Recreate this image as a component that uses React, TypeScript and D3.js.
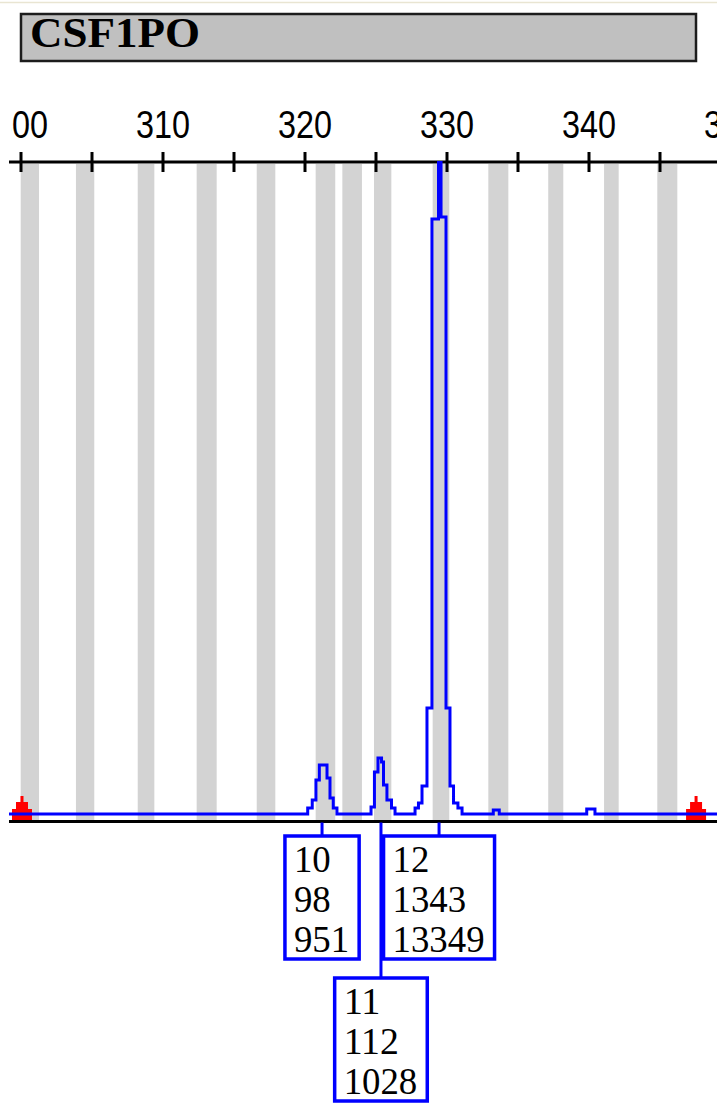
import React from "react";
import * as d3 from "d3";

// ---- data ----
const markerName = "CSF1PO";
const tickValues = [300, 305, 310, 315, 320, 325, 330, 335, 340, 345, 350];
const tickLabels = [300, 310, 320, 330, 340, 350];
const binStarts = [299.98, 303.87, 308.22, 312.37, 316.6, 320.75, 322.63, 324.86, 328.99, 332.91, 337.13, 341.06, 344.81];
const binEnds = [301.27, 305.16, 309.39, 313.78, 317.91, 322.13, 324.01, 326.08, 330.16, 334.32, 338.19, 342.09, 346.22];
const traceSize = [
  299, 320.19, 320.51, 320.77, 321.01, 321.55, 321.76, 321.99, 322.25,
  324.65, 324.89, 325.14, 325.39, 325.53, 325.77, 326.09, 326.34,
  327.75, 327.99, 328.24, 328.59, 328.94, 329.4, 329.58, 329.93, 330.21, 330.46, 330.77, 331.06,
  333.26, 333.68, 339.84, 340.42, 351,
];
const traceRfu = [
  0, 12, 28, 68, 98, 72, 32, 12, 0,
  14, 84, 112, 104, 58, 28, 12, 0,
  12, 22, 56, 212, 1190, 1343, 1194, 212, 56, 22, 12, 0,
  8, 0, 10, 0, 0,
];
const alleleNames = ["10", "11", "12"];
const alleleSizes = [321.2, 325.35, 329.44];
const alleleHeights = [98, 112, 1343];
const alleleAreas = [951, 1028, 13349];
const rangeMarkers = [300.07, 347.54];

// ---- layout ----
const W = 717;
const H = 1103;
const LEFT = 9;
const AXIS_Y = 162;
const BASE_Y = 814;
const BOTTOM_Y = 821.5;

export default function App() {
  const x = d3.scaleLinear().domain([300, 350]).range([21, 731]);
  const y = d3.scaleLinear().domain([0, 1304]).range([BASE_Y, AXIS_Y]);

  const trace = traceSize.map((s, i) => [s, traceRfu[i]] as [number, number]);
  const line = d3
    .line<[number, number]>()
    .x((d) => x(d[0]))
    .y((d) => y(d[1]))
    .curve(d3.curveStepAfter);

  // label boxes
  const digitW = 18.4;
  const boxes = alleleNames.map((name, i) => {
    const lines = [name, String(alleleHeights[i]), String(alleleAreas[i])];
    const n = d3.max(lines, (l) => l.length) as number;
    const w = n * digitW + 19;
    const cx = x(alleleSizes[i]);
    return { lines, w, cx, left: cx - w / 2, row: 0 };
  });
  const rowEnds: number[] = [];
  boxes.forEach((b) => {
    let r = 0;
    while (rowEnds[r] !== undefined && rowEnds[r] > b.left - 4) r++;
    b.row = r;
    rowEnds[r] = b.left + b.w;
  });
  const rowTop = [836, 978];
  const boxH = 123;

  const markerPath = (cx: number) => {
    const b = BOTTOM_Y - 1.5;
    return `M${cx - 10},${b} V${b - 11} H${cx - 6} V${b - 18} H${cx - 1.5} V${b - 24} H${cx + 1.5} V${b - 18} H${cx + 6} V${b - 11} H${cx + 10} V${b} Z`;
  };

  return (
    <svg
      width={W}
      height={H}
      style={{ position: "absolute", left: 0, top: 0, background: "#ffffff" }}
    >
      <defs>
        <clipPath id="plotClip">
          <rect x={LEFT} y={AXIS_Y - 1} width={W - LEFT} height={BOTTOM_Y - AXIS_Y + 10} />
        </clipPath>
        <clipPath id="axisClip">
          <rect x={LEFT + 2} y={90} width={W - LEFT} height={100} />
        </clipPath>
      </defs>
      <rect x={0} y={0} width={W} height={H} fill="#ffffff" />
      <line x1={0} x2={W} y1={2.5} y2={2.5} stroke="#e9e5d2" strokeWidth={1.5} />

      {/* title box */}
      <rect x={21} y={14} width={675} height={47} fill="#c0c0c0" stroke="#1c1c1c" strokeWidth={2.5} />
      <text
        x={30}
        y={47}
        fontFamily="'Liberation Serif', serif"
        fontWeight="bold"
        fontSize={43}
        textLength={170}
        lengthAdjust="spacingAndGlyphs"
        fill="#000"
      >
        {markerName}
      </text>

      {/* top axis */}
      <g clipPath="url(#axisClip)">
        {tickLabels.map((t) => (
          <text
            key={t}
            x={x(t)}
            y={138}
            textAnchor="middle"
            fontFamily="'Liberation Sans', Arial, sans-serif"
            fontSize={38}
            textLength={String(t).length * 18}
            lengthAdjust="spacingAndGlyphs"
            fill="#000"
          >
            {t}
          </text>
        ))}
      </g>

      {/* bins */}
      <g clipPath="url(#plotClip)">
        {binStarts.map((s, i) => (
          <rect
            key={i}
            x={x(s)}
            y={AXIS_Y + 2}
            width={x(binEnds[i]) - x(s)}
            height={BOTTOM_Y - AXIS_Y - 2}
            fill="#d3d3d3"
          />
        ))}
      </g>

      <g>
        <line x1={LEFT} x2={W} y1={AXIS_Y} y2={AXIS_Y} stroke="#000" strokeWidth={3} />
        {tickValues.map((t) => (
          <line
            key={t}
            x1={x(t)}
            x2={x(t)}
            y1={AXIS_Y - 10}
            y2={AXIS_Y + 10}
            stroke="#000"
            strokeWidth={3}
          />
        ))}
      </g>

      {/* bottom line */}
      <line x1={LEFT} x2={W} y1={BOTTOM_Y} y2={BOTTOM_Y} stroke="#000" strokeWidth={3} />

      {/* range markers */}
      {rangeMarkers.map((m, i) => (
        <path key={i} d={markerPath(x(m))} fill="#ff0000" />
      ))}

      {/* trace */}
      <g clipPath="url(#plotClip)">
        <path d={line(trace) || ""} fill="none" stroke="#0000ff" strokeWidth={3} strokeLinejoin="miter" />
      </g>

      {/* allele label boxes */}
      {boxes.map((b, i) => {
        const top = rowTop[b.row];
        return (
          <g key={i}>
            <line x1={b.cx} x2={b.cx} y1={BOTTOM_Y + 1} y2={top} stroke="#0000ff" strokeWidth={3} />
            <rect x={b.left} y={top} width={b.w} height={boxH} fill="#ffffff" stroke="#0000ff" strokeWidth={3.5} />
            {b.lines.map((l, j) => (
              <text
                key={j}
                x={b.left + 9}
                y={top + 36 + j * 40}
                fontFamily="'Liberation Serif', serif"
                fontSize={38}
                textLength={l.length * digitW}
                lengthAdjust="spacingAndGlyphs"
                fill="#000"
              >
                {l}
              </text>
            ))}
          </g>
        );
      })}
    </svg>
  );
}
